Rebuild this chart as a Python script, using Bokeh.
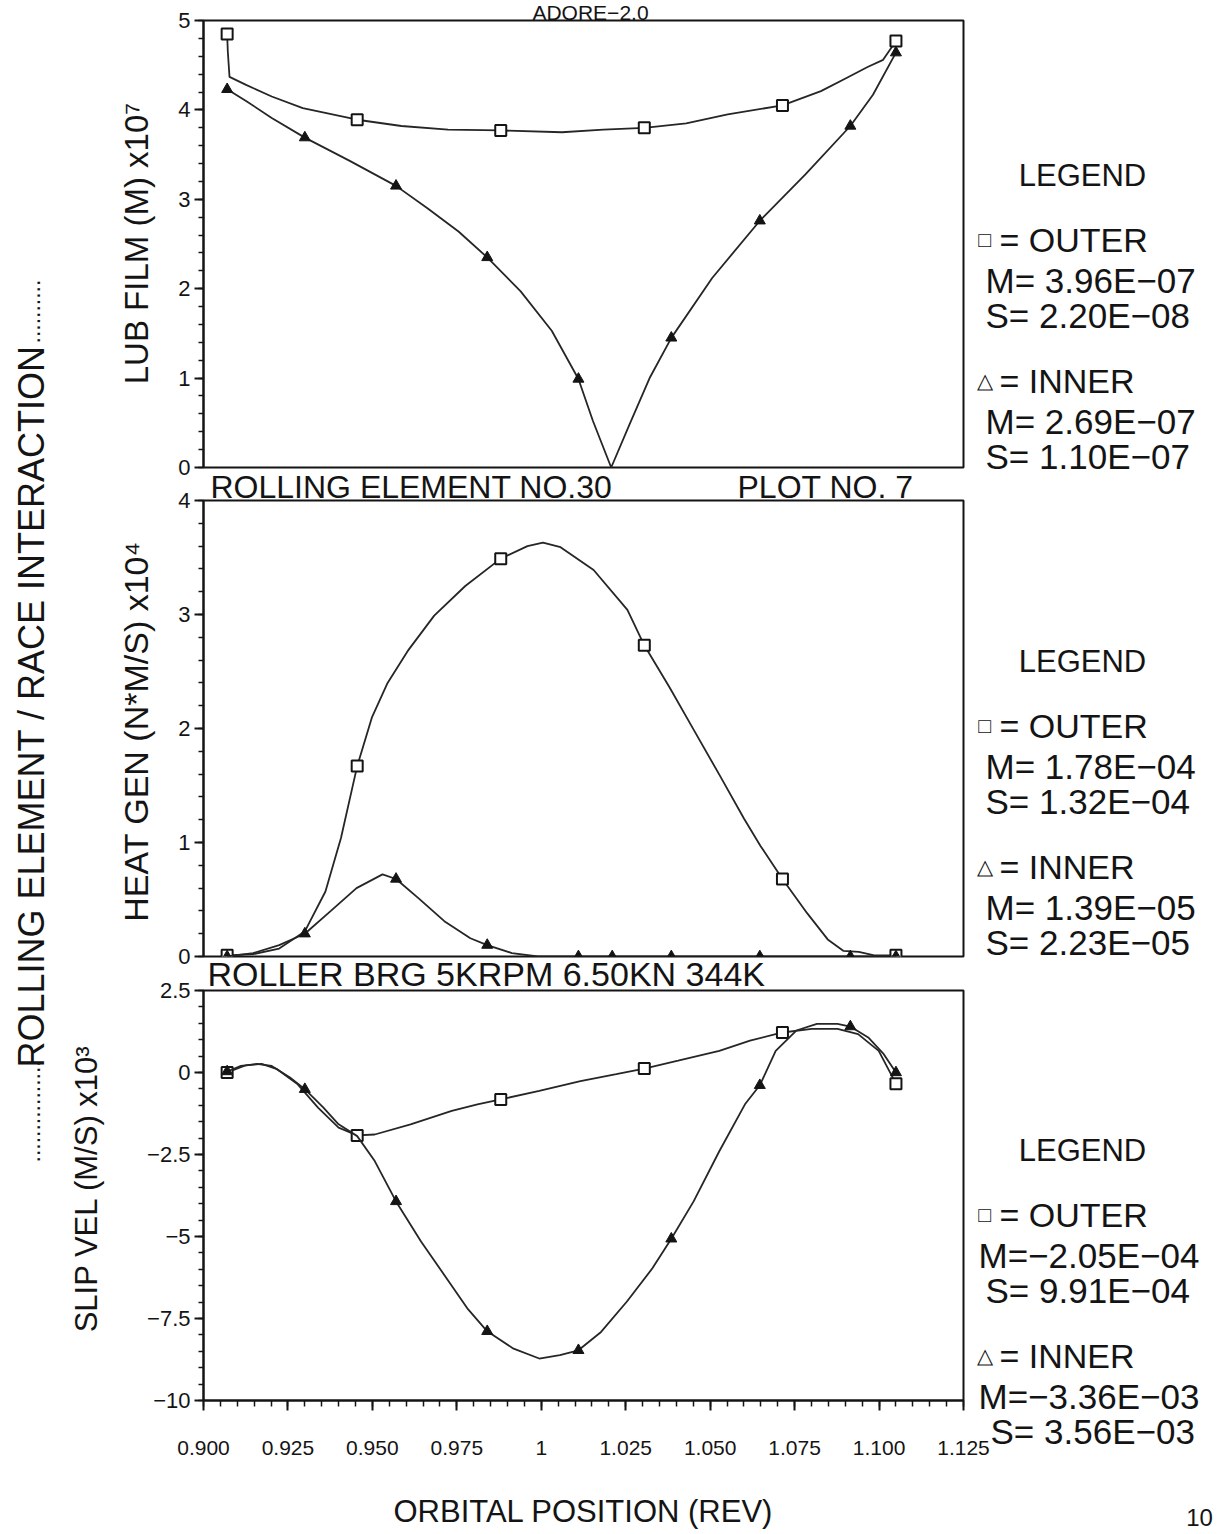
import math
from bokeh.plotting import figure
from bokeh.models import Label, FixedTicker, Range1d, GridBox
from bokeh.layouts import column
from bokeh.embed import file_html
from bokeh.resources import INLINE

# ---------------- data ----------------
X_TICKS = [0.9, 0.925, 0.95, 0.975, 1.0, 1.025, 1.05, 1.075, 1.1, 1.125]
X_TICK_LABELS = ["0.900", "0.925", "0.950", "0.975", "1", "1.025", "1.050", "1.075", "1.100", "1.125"]

FILM_TICKS = [0, 1, 2, 3, 4, 5]
HEAT_TICKS = [0, 1, 2, 3, 4]
SLIP_TICKS = [-10, -7.5, -5, -2.5, 0, 2.5]
SLIP_TICK_LABELS = ["\u221210", "\u22127.5", "\u22125", "\u22122.5", "0", "2.5"]

# marker positions (orbital position, rev)
OUTER_X = [0.907, 0.9455, 0.988, 1.0305, 1.0714, 1.105]
INNER_X = [0.907, 0.930, 0.957, 0.984, 1.011, 1.0385, 1.0647, 1.0915, 1.105]
INNER_X_HEAT = [0.907, 0.930, 0.957, 0.984, 1.011, 1.021, 1.0385, 1.0647, 1.0915, 1.105]

FILM_OUTER = [4.85, 3.89, 3.77, 3.80, 4.05, 4.77]
FILM_INNER = [4.23, 3.69, 3.15, 2.35, 0.99, 1.45, 2.76, 3.82, 4.64]
HEAT_OUTER = [0.01, 1.67, 3.49, 2.73, 0.68, 0.01]
HEAT_INNER = [0.0, 0.20, 0.68, 0.10, 0.0, 0.0, 0.0, 0.0, 0.0, 0.0]
SLIP_OUTER = [0.0, -1.92, -0.82, 0.12, 1.22, -0.34]
SLIP_INNER = [0.03, -0.51, -3.93, -7.89, -8.47, -5.07, -0.39, 1.40, 0.0]

# traced plotter curves
FILM_OUTER_CX = [0.907, 0.9072, 0.9077, 0.9126, 0.9202, 0.9294, 0.9455, 0.9586, 0.9724, 0.988,
                 1.0061, 1.0184, 1.0305, 1.0429, 1.0552, 1.0714, 1.0828, 1.0905, 1.0966, 1.1012, 1.105]
FILM_OUTER_CY = [4.85, 4.65, 4.37, 4.28, 4.15, 4.02, 3.89, 3.82, 3.78, 3.77,
                 3.75, 3.78, 3.80, 3.85, 3.95, 4.05, 4.21, 4.36, 4.48, 4.56, 4.77]
FILM_INNER_CX = [0.907, 0.9126, 0.9202, 0.930, 0.9433, 0.957, 0.9663, 0.9755, 0.984, 0.9939, 1.0031,
                 1.011, 1.0153, 1.0207, 1.0261, 1.0322, 1.0385, 1.0506, 1.0647, 1.0782, 1.0915, 1.0982, 1.105]
FILM_INNER_CY = [4.23, 4.10, 3.91, 3.69, 3.43, 3.15, 2.90, 2.64, 2.35, 1.97, 1.53,
                 0.99, 0.52, 0.0, 0.48, 1.01, 1.45, 2.12, 2.76, 3.28, 3.82, 4.17, 4.64]

HEAT_OUTER_CX = [0.907, 0.9147, 0.9224, 0.930, 0.9361, 0.9407, 0.9455, 0.9499, 0.9545, 0.9607,
                 0.9683, 0.9775, 0.988, 0.9959, 1.0005, 1.0057, 1.0155, 1.0255, 1.0305, 1.0380,
                 1.0451, 1.0530, 1.0600, 1.0649, 1.0714, 1.0787, 1.0848, 1.0894, 1.094, 1.0986, 1.105]
HEAT_OUTER_CY = [0.01, 0.02, 0.07, 0.22, 0.57, 1.04, 1.67, 2.10, 2.40, 2.69,
                 2.99, 3.25, 3.49, 3.60, 3.63, 3.59, 3.39, 3.04, 2.73, 2.36,
                 1.99, 1.58, 1.21, 0.97, 0.68, 0.38, 0.15, 0.05, 0.04, 0.01, 0.01]
HEAT_INNER_CX = [0.907, 0.9147, 0.9224, 0.930, 0.9377, 0.9453, 0.9530, 0.957, 0.9637, 0.9713,
                 0.9790, 0.984, 0.9913, 0.999, 1.105]
HEAT_INNER_CY = [0.0, 0.03, 0.10, 0.20, 0.40, 0.60, 0.72, 0.68, 0.51, 0.31,
                 0.16, 0.10, 0.03, 0.0, 0.0]

SLIP_OUTER_CX = [0.907, 0.9126, 0.9172, 0.9218, 0.9279, 0.9339, 0.940, 0.9455, 0.9507, 0.9613,
                 0.9735, 0.9811, 0.988, 0.9994, 1.0116, 1.0222, 1.0305, 1.0405, 1.0527, 1.0618,
                 1.0714, 1.0801, 1.0877, 1.0938, 1.0999, 1.105]
SLIP_OUTER_CY = [0.0, 0.22, 0.26, 0.10, -0.36, -1.07, -1.68, -1.92, -1.89, -1.58,
                 -1.17, -0.97, -0.82, -0.56, -0.26, -0.05, 0.12, 0.36, 0.66, 0.97,
                 1.22, 1.33, 1.33, 1.17, 0.66, -0.34]
SLIP_INNER_CX = [0.907, 0.9111, 0.9157, 0.9202, 0.9256, 0.930, 0.9355, 0.940, 0.9455, 0.9507,
                 0.957, 0.9644, 0.972, 0.9781, 0.984, 0.9918, 0.9994, 1.0055, 1.011, 1.0177,
                 1.0253, 1.0329, 1.0385, 1.0451, 1.0527, 1.0603, 1.0647, 1.0694, 1.0755, 1.0816,
                 1.0877, 1.0915, 1.0968, 1.1014, 1.105]
SLIP_INNER_CY = [0.03, 0.20, 0.26, 0.20, -0.15, -0.51, -1.07, -1.58, -1.94, -2.70,
                 -3.93, -5.15, -6.28, -7.19, -7.89, -8.42, -8.72, -8.62, -8.47, -7.91,
                 -6.99, -5.97, -5.07, -3.93, -2.40, -0.97, -0.39, 0.66, 1.28, 1.48,
                 1.48, 1.40, 1.07, 0.56, 0.0]

LEGEND_FILM = ["M= 3.96E\u221207", "S= 2.20E\u221208", "M= 2.69E\u221207", "S= 1.10E\u221207"]
LEGEND_HEAT = ["M= 1.78E\u221204", "S= 1.32E\u221204", "M= 1.39E\u221205", "S= 2.23E\u221205"]
LEGEND_SLIP = ["M=\u22122.05E\u221204", "S= 9.91E\u221204", "M=\u22123.36E\u221203", "S= 3.56E\u221203"]

Y_LABELS = ["LUB FILM (M) x10\u2077", "HEAT GEN (N*M/S) x10\u2074", "SLIP VEL (M/S) x10\u00b3"]

# ---------------- layout constants ----------------
FONT = "Liberation Sans"
INK = "#141414"
PAGE_W, PAGE_H = 1217, 1534
FRAME_L, FRAME_R = 203, 963
X0, X1 = 0.9, 1.125


def make_panel(height, page_top, f_top, f_bot, y_lo, y_hi, ticks, minor_step, show_x):
    p = figure(width=PAGE_W, height=height,
               x_range=Range1d(X0, X1), y_range=Range1d(y_lo, y_hi),
               toolbar_location=None, output_backend="svg", title=None,
               x_axis_location="below" if show_x else None,
               min_border_left=FRAME_L, min_border_right=PAGE_W - FRAME_R,
               min_border_top=f_top - page_top, min_border_bottom=page_top + height - f_bot)
    p.grid.visible = False
    p.background_fill_color = "white"
    p.border_fill_color = "white"
    p.outline_line_color = INK
    p.outline_line_width = 2
    n_minor = int(round((y_hi - y_lo) / minor_step))
    minor = [y_lo + minor_step * i for i in range(n_minor + 1)]
    ax = p.yaxis[0]
    ax.ticker = FixedTicker(ticks=ticks, minor_ticks=minor)
    ax.axis_line_width = 2
    ax.axis_line_color = INK
    ax.major_tick_line_width = 2
    ax.major_tick_line_color = INK
    ax.major_tick_in = 0
    ax.major_tick_out = 9
    ax.minor_tick_line_width = 1.5
    ax.minor_tick_line_color = INK
    ax.minor_tick_in = 0
    ax.minor_tick_out = 5
    ax.major_label_text_font = FONT
    ax.major_label_text_font_size = "22px"
    ax.major_label_text_color = INK
    ax.major_label_standoff = 4
    return p


def draw_series(p, cx, cy, mx, my, marker):
    p.line(cx, cy, line_color="#262626", line_width=1.8)
    if marker == "square":
        p.scatter(mx, my, marker="square", size=11, fill_color="white", line_color=INK, line_width=2)
    else:
        p.scatter(mx, my, marker="triangle", size=11, fill_color=INK, line_color=INK, line_width=1)


# ---------------- panel 1: lubricant film ----------------
p1 = make_panel(483, 0, 20, 467, 0, 5, FILM_TICKS, 0.2, False)
draw_series(p1, FILM_OUTER_CX, FILM_OUTER_CY, OUTER_X, FILM_OUTER, "square")
draw_series(p1, FILM_INNER_CX, FILM_INNER_CY, INNER_X, FILM_INNER, "triangle")

# ---------------- panel 2: heat generation ----------------
p2 = make_panel(490, 483, 500, 956, 0, 4, HEAT_TICKS, 0.2, False)
draw_series(p2, HEAT_OUTER_CX, HEAT_OUTER_CY, OUTER_X, HEAT_OUTER, "square")
draw_series(p2, HEAT_INNER_CX, HEAT_INNER_CY, INNER_X_HEAT, HEAT_INNER, "triangle")

# ---------------- panel 3: slip velocity ----------------
p3 = make_panel(561, 973, 990, 1400, -10, 2.5, SLIP_TICKS, 0.5, True)
p3.yaxis[0].major_label_overrides = dict(zip(SLIP_TICKS, SLIP_TICK_LABELS))
draw_series(p3, SLIP_OUTER_CX, SLIP_OUTER_CY, OUTER_X, SLIP_OUTER, "square")
draw_series(p3, SLIP_INNER_CX, SLIP_INNER_CY, INNER_X, SLIP_INNER, "triangle")
xa = p3.xaxis[0]
xa.ticker = FixedTicker(ticks=X_TICKS, minor_ticks=[X0 + 0.005 * i for i in range(46)])
xa.major_label_overrides = dict(zip(X_TICKS, X_TICK_LABELS))
xa.axis_line_width = 2
xa.axis_line_color = INK
xa.major_tick_line_width = 2
xa.major_tick_line_color = INK
xa.major_tick_in = 0
xa.major_tick_out = 10
xa.minor_tick_line_width = 1.5
xa.minor_tick_line_color = INK
xa.minor_tick_in = 0
xa.minor_tick_out = 6
xa.major_label_text_font = FONT
xa.major_label_text_font_size = "21px"
xa.major_label_text_color = INK
xa.major_label_standoff = 30
xa.axis_label = "ORBITAL POSITION (REV)"
xa.axis_label_text_font = FONT
xa.axis_label_text_font_size = "31px"
xa.axis_label_text_font_style = "normal"
xa.axis_label_text_color = INK
xa.axis_label_standoff = 36

# ---------------- transparent overlay carrying the free texts ----------------
ov = figure(width=PAGE_W, height=PAGE_H, x_range=Range1d(0, PAGE_W), y_range=Range1d(0, PAGE_H),
            toolbar_location=None, output_backend="svg", title=None,
            x_axis_type=None, y_axis_type=None, min_border=0)
ov.grid.visible = False
ov.outline_line_color = None
ov.background_fill_color = None
ov.border_fill_color = None


def txt(text, px, py, size, align="left", angle=0.0):
    ov.add_layout(Label(x=px, y=PAGE_H - py, text=text, text_font=FONT, text_font_size=f"{size}px",
                        text_align=align, text_baseline="middle", angle=angle, text_color=INK))


def legend(top, lines, left=985, last_left=985):
    txt("LEGEND", 1082, top, 31, align="center")
    txt("\u25a1", 984, top + 64, 21, align="center")
    txt("= OUTER", 999, top + 64, 34)
    txt(lines[0], left, top + 105, 35)
    txt(lines[1], 985, top + 140, 35)
    txt("\u25b3", 984, top + 205, 21, align="center")
    txt("= INNER", 999, top + 205, 34)
    txt(lines[2], left, top + 246, 35)
    txt(lines[3], last_left, top + 281, 35)


txt("ADORE\u22122.0", 590, 12, 21, align="center")
txt("ROLLING ELEMENT NO.30", 210, 486, 32)
txt("PLOT NO. 7", 737, 486, 32)
txt("ROLLER BRG 5KRPM 6.50KN 344K", 207, 973, 34)
legend(175, LEGEND_FILM)
legend(661, LEGEND_HEAT)
legend(1150, LEGEND_SLIP, left=978, last_left=990)
txt("10", 1199, 1517, 24, align="center")

# y-axis titles (rotated)
txt(Y_LABELS[0], 136, 243, 33, align="center", angle=math.pi / 2)
txt(Y_LABELS[1], 135, 731, 34, align="center", angle=math.pi / 2)
txt(Y_LABELS[2], 86, 1188, 31, align="center", angle=math.pi / 2)

# overall side title
txt("ROLLING ELEMENT / RACE  INTERACTION", 31, 701, 36, align="center", angle=math.pi / 2)
txt("................", 31, 1162, 23, align="left", angle=math.pi / 2)
txt("..........", 31, 343, 23, align="left", angle=math.pi / 2)

panels = column(p1, p2, p3)
layout = GridBox(children=[(panels, 0, 0), (ov, 0, 0)])
open("out.html", "w").write(file_html(layout, INLINE))
